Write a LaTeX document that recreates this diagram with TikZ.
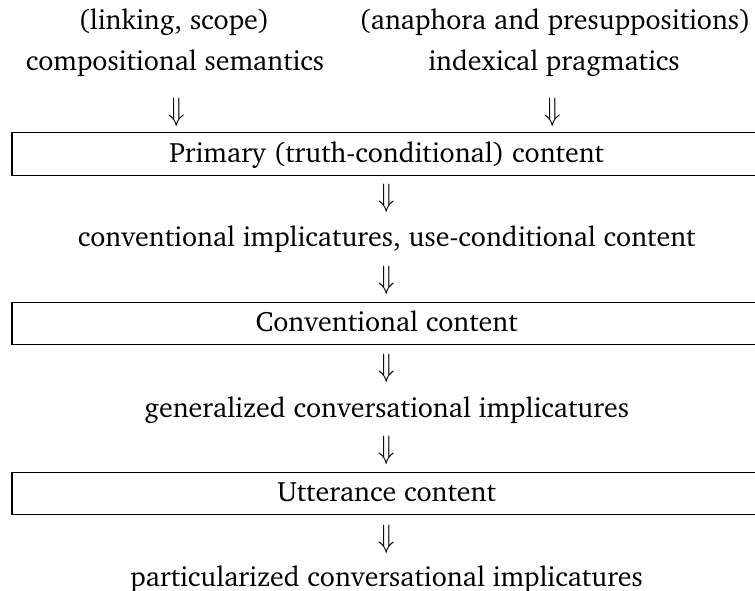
\documentclass[tikz,border=0pt]{standalone}
\usepackage[T1]{fontenc}
\usepackage{charter}
\newcommand{\dnarr}{\scalebox{1.08}[1.3]{$\Downarrow$}}
\begin{document}
\begin{tikzpicture}[x=1pt,y=-1pt,
  txt/.style={font=\fontsize{28}{33}\selectfont, inner sep=0pt, anchor=base},
  arr/.style={font=\fontsize{28}{33}\selectfont, inner sep=0pt, anchor=center},
  cbox/.style={draw, line width=1.3pt, minimum width=749pt, minimum height=42.6pt, inner sep=0pt}]
\useasboundingbox (0,0) rectangle (755,590);
\node[txt] (link) at (174,29) {(linking, scope)};
\node[txt] (anaph) at (555,29) {(anaphora and presuppositions)};
\node[txt] (comp) at (175,70) {compositional semantics};
\node[txt] (index) at (554,70) {indexical pragmatics};
\node[arr] (a1) at (176.7,112) {\dnarr};
\node[arr] (a2) at (553,112) {\dnarr};
\node[cbox] (b1) at (386.5,154) {};
\node[txt] (t1) at (386.7,162) {Primary (truth-conditional) content};
\node[arr] (a3) at (386.7,198.3) {\dnarr};
\node[txt] (ci) at (386.7,246) {conventional implicatures, use-conditional content};
\node[arr] (a4) at (386.7,280.8) {\dnarr};
\node[cbox] (b2) at (386.5,323.5) {};
\node[txt] (t2) at (386.7,331.7) {Conventional content};
\node[arr] (a5) at (386.7,368) {\dnarr};
\node[txt] (gci) at (386.7,417.4) {generalized conversational implicatures};
\node[arr] (a6) at (386.7,450.8) {\dnarr};
\node[cbox] (b3) at (386.5,493.5) {};
\node[txt] (t3) at (386.7,501.7) {Utterance content};
\node[arr] (a7) at (386.7,539) {\dnarr};
\node[txt] (pci) at (386.7,586) {particularized conversational implicatures};
\end{tikzpicture}
\end{document}
